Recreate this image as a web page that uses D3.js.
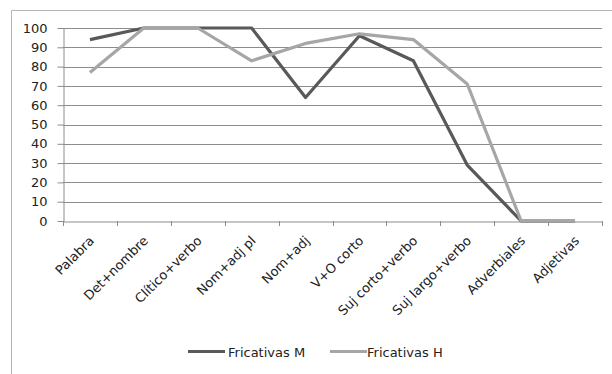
<!DOCTYPE html>
<html><head><meta charset="utf-8">
<script src="https://cdn.jsdelivr.net/npm/d3@7"></script>
<style>body{margin:0;background:#fff}svg{display:block}</style>
</head><body>
<svg id="c" width="612" height="374"></svg>
<script>
const categories = ["Palabra","Det+nombre","Clítico+verbo","Nom+adj pl","Nom+adj","V+O corto","Suj corto+verbo","Suj largo+verbo","Adverbiales","Adjetivas"];
const fricativasM = [94,100,100,100,64,96,83,29,0,0];
const fricativasH = [77,100,100,83,92,97,94,71,0,0];
const yTicks = [0,10,20,30,40,50,60,70,80,90,100];
const seriesNames = ["Fricativas M","Fricativas H"];
const seriesColors = ["#595959","#a6a6a6"];

const svg = d3.select("#c");
const font = "'DejaVu Sans', Verdana, sans-serif";
// chart border (only top and left visible)
svg.append("line").attr("x1",11.5).attr("x2",612).attr("y1",10.5).attr("y2",10.5).attr("stroke","#b4b4b4");
svg.append("line").attr("x1",11.5).attr("x2",11.5).attr("y1",10.5).attr("y2",374).attr("stroke","#b4b4b4");

const x0 = 63, x1 = 602, yTop = 28, yBot = 221;
const x = d3.scaleBand().domain(categories).range([x0,x1]);
const y = d3.scaleLinear().domain([0,100]).range([yBot,yTop]);

// gridlines
svg.append("g").selectAll("line").data(yTicks.filter(d=>d>0)).join("line")
  .attr("x1",x0).attr("x2",x1).attr("y1",d=>Math.round(y(d))+0.5).attr("y2",d=>Math.round(y(d))+0.5)
  .attr("stroke","#8c8c8c").attr("stroke-width",1);

// y axis
const ya = svg.append("g").attr("transform",`translate(${x0+0.5},0)`)
  .call(d3.axisLeft(y).tickValues(yTicks).tickSize(6).tickSizeOuter(0));
ya.select(".domain").attr("stroke","#8c8c8c");
ya.selectAll(".tick line").attr("stroke","#8c8c8c");
ya.selectAll(".tick text").attr("font-family",font).attr("font-size",13).attr("fill","#222").attr("x",-16);

// x axis
const xa = svg.append("g").attr("transform",`translate(0,${Math.round(yBot)+0.5})`)
  .call(d3.axisBottom(x).tickSize(0).tickSizeOuter(0));
xa.select(".domain").attr("stroke","#8c8c8c");
xa.selectAll(".tick text").attr("font-family",font).attr("font-size",13).attr("fill","#222")
  .attr("text-anchor","end").attr("dy",0).attr("y",0)
  .attr("transform","translate(5,20) rotate(-45)");
// tick marks at band boundaries
const bounds = categories.map(c=>x(c)).concat([x1]);
svg.append("g").selectAll("line").data(bounds).join("line")
  .attr("x1",d=>Math.round(d)+0.5).attr("x2",d=>Math.round(d)+0.5)
  .attr("y1",Math.round(yBot)).attr("y2",Math.round(yBot)+5).attr("stroke","#8c8c8c");

const line = d3.line().x((d,i)=>x(categories[i])+x.bandwidth()/2).y(d=>y(d));
[fricativasM,fricativasH].forEach((s,k)=>{
  svg.append("path").datum(s).attr("d",line).attr("fill","none")
    .attr("stroke",seriesColors[k]).attr("stroke-width",3.2).attr("stroke-linejoin","round");
});

// legend
const leg = [{x:188,tx:228},{x:330,tx:367}];
seriesNames.forEach((n,k)=>{
  svg.append("line").attr("x1",leg[k].x).attr("x2",leg[k].x+37).attr("y1",351.5).attr("y2",351.5)
    .attr("stroke",seriesColors[k]).attr("stroke-width",3.2);
  svg.append("text").attr("x",leg[k].tx).attr("y",357).attr("font-family",font).attr("font-size",13)
    .attr("fill","#222").text(n);
});
</script>
</body></html>
